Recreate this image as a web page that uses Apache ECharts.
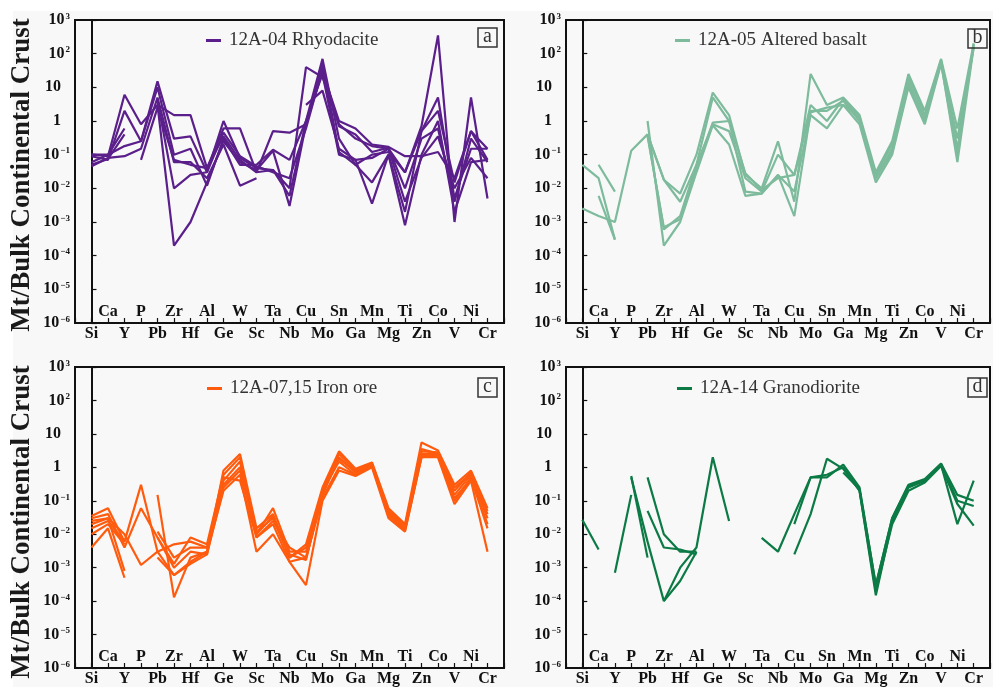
<!DOCTYPE html>
<html>
<head>
<meta charset="utf-8">
<script src="https://cdn.jsdelivr.net/npm/echarts@6/dist/echarts.min.js"></script>
<style>
html,body{margin:0;padding:0;background:#fff;}
#main{width:993px;height:687px;}
</style>
</head>
<body>
<div id="main"></div>
<script>
// ---- categories & ticks ----
const categories = ['Si','Ca','Y','P','Pb','Zr','Hf','Al','Ge','W','Sc','Ta','Nb','Cu','Mo','Sn','Ga','Mn','Mg','Ti','Zn','Co','V','Ni','Cr'];
const yExponents = [-6,-5,-4,-3,-2,-1,0,1,2,3];
const panelNames = ['12A-04 Rhyodacite','12A-05 Altered basalt','12A-07,15 Iron ore','12A-14 Granodiorite'];
const panelLetters = ['a','b','c','d'];
const panelColors = ['#5a1f8a','#7dbb9c','#ff5b0e','#0c7a45'];
const _ = null;

// ---- panel a: 12A-04 Rhyodacite ----
const rhyodacite = [
  [0.1,0.09,6,0.8,3,1.5,1.5,0.04,0.6,0.6,0.03,0.5,0.45,0.8,30,1,0.6,0.2,0.17,0.09,0.09,0.12,0.02,0.5,0.15],
  [0.09,0.07,2,0.25,15,0.3,0.35,0.03,1,0.08,0.04,0.035,0.01,40,20,0.8,0.3,0.18,0.15,0.03,0.7,350,0.001,5,0.005],
  [0.06,0.1,0.18,0.25,10,0.1,0.15,0.012,0.3,0.05,0.05,0.14,0.07,1,70,0.3,0.05,0.015,0.1,0.002,0.5,5,0.005,0.15,0.15],
  [0.045,0.08,0.09,0.15,5,0.06,0.06,0.02,0.2,0.012,0.02,_,_,3,8,0.15,0.07,0.0035,0.1,0.0008,0.1,1,0.002,0.06,0.07],
  [0.1,0.1,0.6,_,_,_,_,_,_,_,_,_,_,_,_,_,_,_,_,_,_,_,_,_,_],
  [0.05,0.075,0.4,_,_,_,_,_,_,_,_,_,_,_,_,_,_,_,_,_,_,_,_,_,_],
  [_,_,_,0.07,2.5,0.07,0.05,0.04,0.35,0.07,0.03,0.035,0.006,1,25,0.1,0.07,0.08,0.15,0.004,0.08,0.35,0.01,0.08,0.02],
  [_,_,_,_,3,0.0002,0.001,0.015,0.25,0.06,0.035,0.13,0.003,0.8,50,0.12,0.05,0.1,0.12,0.03,0.5,2,0.015,0.5,0.07],
  [_,_,_,_,4,0.01,0.025,0.03,0.45,0.09,0.045,0.03,0.02,0.6,35,0.7,0.4,0.12,0.16,0.01,0.3,0.6,0.004,0.3,0.06]
];

// ---- panel b: 12A-05 Altered basalt ----
const alteredBasalt = [
  [0.05,0.02,0.0003,_,_,_,_,_,_,_,_,_,_,_,_,_,_,_,_,_,_,_,_,_,_],
  [_,0.05,0.008,_,_,_,_,_,_,_,_,_,_,_,_,_,_,_,_,_,_,_,_,_,_],
  [_,0.006,0.0003,_,_,_,_,_,_,_,_,_,_,_,_,_,_,_,_,_,_,_,_,_,_],
  [0.0025,0.0015,0.001,0.13,0.4,0.0006,0.0015,0.05,0.8,0.5,0.02,0.008,0.1,0.025,2,2,4,1,0.02,0.15,15,1,60,0.3,150],
  [_,_,_,_,1,0.0002,0.001,0.03,0.75,0.2,0.006,0.007,0.025,0.008,1.5,0.6,3,0.8,0.015,0.1,10,0.8,50,0.1,200],
  [_,_,_,_,0.4,0.018,0.007,0.1,7,1.5,0.025,0.01,0.25,0.004,25,3,5,1.5,0.03,0.25,25,2,70,0.6,200],
  [_,_,_,_,0.4,0.018,0.004,0.05,5,1,0.028,0.009,0.02,0.025,3,1,4.5,1.2,0.025,0.2,20,1.5,65,0.15,180],
  [_,_,_,_,0.35,0.0007,0.0012,0.04,0.9,1,0.008,0.007,0.025,0.0015,1.8,2.5,3,1.3,0.02,0.12,12,1.2,55,0.06,160]
];

// ---- panel c: 12A-07,15 Iron ore ----
const ironOre = [
  [0.035,0.06,0.006,0.3,0.003,0.0006,0.0015,0.003,0.8,2.5,0.015,0.04,0.002,0.005,0.25,3,0.9,1.4,0.06,0.02,5.5,3.2,0.3,0.8,0.06],
  [0.03,0.04,0.004,0.06,0.008,0.0013,0.008,0.005,0.6,2,0.01,0.06,0.003,0.003,0.2,2.5,0.8,1.3,0.05,0.018,3,2.8,0.2,0.7,0.04],
  [0.025,0.03,0.01,0.0012,0.003,0.005,0.006,0.004,0.4,1.5,0.008,0.025,0.004,0.002,0.15,2,0.7,1.2,0.04,0.015,2.5,2.5,0.15,0.6,0.03],
  [0.02,0.03,0.0008,_,0.012,0.002,0.004,0.004,0.3,1,0.012,0.03,0.002,0.004,0.2,1.5,0.6,1.1,0.035,0.013,2,2.2,0.1,0.5,0.015],
  [0.004,0.015,0.0005,_,0.15,0.00013,0.002,0.003,0.2,0.6,0.003,0.01,0.0015,0.0003,0.1,0.8,0.55,1,0.03,0.012,2,2,0.08,0.4,0.003],
  [0.01,0.02,0.005,_,0.008,0.001,0.003,0.0025,0.5,0.4,0.008,0.02,0.0015,0.002,0.12,1,0.6,1.1,0.045,0.014,2.2,2.3,0.12,0.45,0.02],
  [0.015,0.025,0.006,_,0.002,0.0006,0.0013,0.0025,0.25,0.8,0.01,0.035,0.0025,0.0017,0.18,1.8,0.75,1.25,0.05,0.016,3.5,2.6,0.25,0.65,0.05]
];

// ---- panel d: 12A-14 Granodiorite ----
const granodiorite = [
  [0.027,0.0035,_,_,_,_,_,_,_,_,_,_,_,_,_,_,_,_,_,_,_,_,_,_,_],
  [_,_,0.0007,0.15,_,_,_,_,_,_,_,_,_,_,_,_,_,_,_,_,_,_,_,_,_],
  [_,_,_,0.55,0.002,_,_,_,_,_,_,_,_,_,_,_,_,_,_,_,_,_,_,_,_],
  [_,_,_,0.5,0.006,0.0001,0.001,0.004,2,0.025,_,_,_,_,_,_,_,_,_,_,_,_,_,_,_],
  [_,_,_,_,0.5,0.01,0.003,0.003,_,_,_,_,_,_,_,_,_,_,_,_,_,_,_,_,_],
  [_,_,_,_,0.05,0.004,0.0035,0.0025,_,_,_,_,_,_,_,_,_,_,_,_,_,_,_,_,_],
  [_,_,_,_,_,0.0001,0.0004,0.003,_,_,_,_,_,_,_,_,_,_,_,_,_,_,_,_,_],
  [_,_,_,_,_,_,_,_,_,_,_,0.0078,0.003,0.04,0.5,0.5,1.2,0.25,0.0003,0.03,0.3,0.45,1.3,0.15,0.1],
  [_,_,_,_,_,_,_,_,_,_,_,_,_,0.02,0.5,0.6,1,0.2,0.00015,0.025,0.25,0.4,1.2,0.02,0.4],
  [_,_,_,_,_,_,_,_,_,_,_,_,_,0.0025,0.04,1.8,0.9,0.2,0.0002,0.02,0.2,0.35,1.1,0.08,0.018],
  [_,_,_,_,_,_,_,_,_,_,_,_,_,_,_,_,0.7,0.22,0.0003,0.03,0.28,0.4,1.25,0.1,0.07]
];

const panelData = [rhyodacite, alteredBasalt, ironOre, granodiorite];

// ---- layout ----
const grids = [
  {left:75, top:20, width:429, height:303},
  {left:566, top:20, width:429, height:303},
  {left:75, top:367, width:429, height:305},
  {left:566, top:367, width:429, height:305}
];
const serif = '"Liberation Serif","Times New Roman",serif';
const sup = {'-':'\u2212'};

function yLabel(v){
  const e = Math.round(Math.log10(v));
  if (e === 0) return '{p|1}';
  if (e === 1) return '{p|10}';
  return '{b|10}{s|' + String(e).replace('-','\u2212') + '}';
}

const option = {
  backgroundColor: '#ffffff',
  animation: false,
  grid: [],
  xAxis: [],
  yAxis: [],
  series: [],
  legend: [],
  graphic: []
};

option.graphic.push({type:'rect', shape:{x:13,y:11,width:993,height:700}, style:{fill:'#f8f8f8'}, z:-10, silent:true});

grids.forEach((g,p)=>{
  option.grid.push(Object.assign({show:true, borderColor:'#111', borderWidth:2, backgroundColor:'transparent', containLabel:false}, g));
  const lblStyle = {fontFamily:serif, fontWeight:'bold', fontSize:16, color:'#111'};
  // lower row labels (even)
  option.xAxis.push({
    type:'value', gridIndex:p, min:-1, max:25, interval:1,
    splitLine:{show:false},
    axisLine:{show:true, lineStyle:{color:'#111', width:2}},
    axisTick:{show:true, inside:true, length:5, lineStyle:{color:'#111', width:1.2}},
    axisLabel:Object.assign({margin:3, showMinLabel:true, showMaxLabel:true,
      formatter:(v)=>{ const i=Math.round(v); return (i>=0 && i<categories.length && i%2===0)?categories[i]:''; }}, lblStyle)
  });
  // upper row labels (odd), inside the plot
  option.xAxis.push({
    type:'value', gridIndex:p, min:-1, max:25, interval:1, position:'bottom',
    splitLine:{show:false}, axisLine:{show:false}, axisTick:{show:false},
    axisLabel:Object.assign({inside:true, margin:3,
      formatter:(v)=>{ const i=Math.round(v); return (i>=0 && i<categories.length && i%2===1)?categories[i]:''; }}, lblStyle)
  });
  option.yAxis.push({
    type:'log', gridIndex:p, logBase:10, min:1e-6, max:1e3, interval:1,
    splitLine:{show:false},
    axisLine:{show:true, lineStyle:{color:'#111', width:2}},
    axisTick:{show:true, inside:true, length:5, lineStyle:{color:'#111', width:1.2}},
    axisLabel:{margin:5, formatter:yLabel, showMinLabel:true, showMaxLabel:true,
      rich:{
        b:{fontFamily:serif, fontWeight:'bold', fontSize:16, color:'#111', lineHeight:16, verticalAlign:'bottom'},
        p:{fontFamily:serif, fontWeight:'bold', fontSize:16, color:'#111', lineHeight:16, padding:[0,9,0,0]},
        s:{fontFamily:serif, fontWeight:'bold', fontSize:9, color:'#111', lineHeight:9, verticalAlign:'top', padding:[0,0,6,1]}
      }}
  });
  panelData[p].forEach((row)=>{
    option.series.push({
      type:'line', name:panelNames[p], xAxisIndex:2*p, yAxisIndex:p,
      symbol:'none', clip:true,
      lineStyle:{color:panelColors[p], width:2.2},
      itemStyle:{color:panelColors[p]},
      data: row.map((v,i)=>[i, v===null?'-':v])
    });
  });
  const lx = [206,675,207,677][p];
  const ly = [41,41,389,389][p];
  option.legend.push({
    data:[panelNames[p]], left:lx, top:ly-10, icon:'rect', itemWidth:15, itemHeight:3,
    selectedMode:false, padding:0,
    textStyle:{fontFamily:serif, fontSize:19, color:'#333', padding:[0,0,0,3]}
  });
  const bx = [478,968,478,968][p];
  const by = [28,29,378,378][p];
  option.graphic.push({type:'rect', shape:{x:bx,y:by,width:19,height:19}, style:{fill:'none', stroke:'#333', lineWidth:1.5}, z:100});
  option.graphic.push({type:'text', x:bx+9.5, y:by+9, style:{text:panelLetters[p], font:'20px '+serif, fill:'#333', textAlign:'center', textVerticalAlign:'middle'}, z:100});
});

// y-axis titles
[175, 522].forEach((cy)=>{
  option.graphic.push({type:'text', x:22, y:cy, rotation:Math.PI/2,
    style:{text:'Mt/Bulk Continental Crust', font:'bold 27px '+serif, fill:'#1a1a1a', textAlign:'center', textVerticalAlign:'middle'}, z:100});
});

const chart = echarts.init(document.getElementById('main'), null, {renderer:'canvas'});
chart.setOption(option);
</script>
</body>
</html>
